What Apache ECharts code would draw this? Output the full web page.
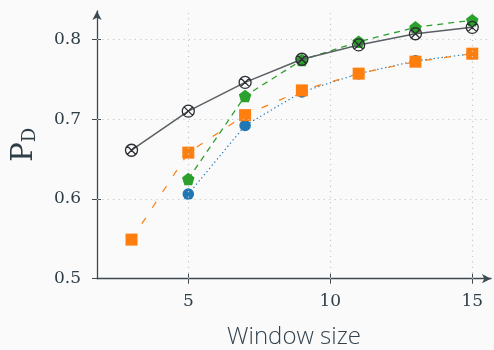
<!DOCTYPE html>
<html>
<head>
<meta charset="utf-8">
<script src="https://cdn.jsdelivr.net/npm/echarts@6/dist/echarts.min.js"></script>
<style>
  html, body { margin: 0; padding: 0; background: #fafafa; }
  #chart { width: 494px; height: 350px; }
</style>
</head>
<body>
<div id="chart"></div>
<script>
// Detection probability against window size for four detectors
const windowSizes = [3, 5, 7, 9, 11, 13, 15];
const windowSizesFrom5 = [5, 7, 9, 11, 13, 15];

const pdCross    = [0.661, 0.710, 0.746, 0.775, 0.793, 0.807, 0.815];
const pdPentagon = [0.625, 0.729, 0.774, 0.797, 0.815, 0.824];
const pdSquare   = [0.549, 0.658, 0.705, 0.736, 0.757, 0.772, 0.782];
const pdCircle   = [0.606, 0.692, 0.734, 0.757, 0.773, 0.782];

const xTicks = [5, 10, 15];
const yTicks = [0.5, 0.6, 0.7, 0.8];
const xGridLines = [5, 10, 15];
const yGridLines = [0.6, 0.7, 0.8];

const pairs = (xs, ys) => xs.map((x, i) => [x, ys[i]]);

const ink = '#2f3d47';
const axisInk = '#3e4a52';
const gridColor = '#c8c8c8';
const serif = 'DejaVu Serif';

const X_MIN = 1.785, X_MAX = 15.66;
const Y_MIN = 0.5, Y_MAX = 0.8355;
const gridRect = { left: 97, right: 3, top: 11, bottom: 71.3, containLabel: false, outerBoundsMode: 'none' };

const circledX = 'path://M0,10 A10,10 0 1,1 20,10 A10,10 0 1,1 0,10 Z M2.93,2.93 L17.07,17.07 M17.07,2.93 L2.93,17.07';
const pentagon = 'path://M0,-1 L0.951,-0.309 L0.588,0.809 L-0.588,0.809 L-0.951,-0.309 Z';

const chart = echarts.init(document.getElementById('chart'), null, { renderer: 'canvas' });

chart.setOption({
  backgroundColor: '#fafafa',
  animation: false,
  grid: [Object.assign({}, gridRect), Object.assign({}, gridRect)],
  xAxis: [
    {
      type: 'value', gridIndex: 0, min: X_MIN, max: X_MAX,
      name: 'Window size', nameLocation: 'middle', nameGap: 46,
      nameTextStyle: { fontFamily: 'Open Sans', fontWeight: 300, fontSize: 24, color: '#34424c' },
      axisLine: { show: true, symbol: ['none', 'arrow'], symbolSize: [7, 9],
                  lineStyle: { color: axisInk, width: 1.3 } },
      axisTick: { show: true, length: 5, customValues: xTicks,
                  lineStyle: { color: axisInk, width: 1 } },
      axisLabel: { customValues: xTicks, margin: 14, fontFamily: serif, fontSize: 17, color: ink },
      splitLine: { show: false }
    },
    {
      type: 'value', gridIndex: 1, min: X_MIN, max: X_MAX,
      axisLine: { show: false },
      axisTick: { show: true, inside: true, length: 5, customValues: xTicks,
                  lineStyle: { color: axisInk, width: 1 } },
      axisLabel: { show: false },
      splitLine: { show: false }
    }
  ],
  yAxis: [
    {
      type: 'value', gridIndex: 0, min: Y_MIN, max: Y_MAX,
      name: '{p|P}{d|D}', nameLocation: 'middle', nameGap: 58, nameRotate: 90,
      nameTextStyle: {
        color: ink,
        rich: {
          p: { fontFamily: serif, fontSize: 29, color: ink, lineHeight: 36, verticalAlign: 'bottom' },
          d: { fontFamily: serif, fontSize: 18, color: ink, lineHeight: 36, verticalAlign: 'bottom' }
        }
      },
      axisLine: { show: true, symbol: ['none', 'arrow'], symbolSize: [7, 9],
                  lineStyle: { color: axisInk, width: 1.3 } },
      axisTick: { show: true, length: 5, customValues: yTicks,
                  lineStyle: { color: axisInk, width: 1 } },
      axisLabel: { customValues: yTicks, margin: 16, fontFamily: serif, fontSize: 17, color: ink,
                   formatter: v => v.toFixed(1) },
      splitLine: { show: false }
    },
    {
      type: 'value', gridIndex: 1, min: Y_MIN, max: Y_MAX,
      axisLine: { show: false },
      axisTick: { show: true, inside: true, length: 4, customValues: yTicks,
                  lineStyle: { color: axisInk, width: 1 } },
      axisLabel: { show: false },
      splitLine: { show: false }
    }
  ],
  series: [
    {
      name: 'grid', type: 'line', xAxisIndex: 0, yAxisIndex: 0, data: [], z: 1, silent: true,
      markLine: {
        silent: true, symbol: ['none', 'none'], animation: false,
        label: { show: false },
        lineStyle: { color: gridColor, type: [1.2, 4.2], width: 1.2 },
        data: xGridLines.map(v => ({ xAxis: v })).concat(yGridLines.map(v => ({ yAxis: v })))
      }
    },
    {
      name: 'circle', type: 'line', data: pairs(windowSizesFrom5, pdCircle), z: 3,
      symbol: 'circle', symbolSize: 11.5,
      lineStyle: { color: '#1f77b4', width: 1.2, type: [1.3, 2.8] },
      itemStyle: { color: '#1f77b4' }
    },
    {
      name: 'square', type: 'line', data: pairs(windowSizes, pdSquare), z: 4,
      symbol: 'rect', symbolSize: 12,
      lineStyle: { color: '#ff7f0e', width: 1.2, type: [7, 12] },
      itemStyle: { color: '#ff7f0e' }
    },
    {
      name: 'pentagon', type: 'line', data: pairs(windowSizesFrom5, pdPentagon), z: 5,
      symbol: pentagon, symbolSize: 12.5,
      lineStyle: { color: '#2ca02c', width: 1.3, type: [6, 5] },
      itemStyle: { color: '#2ca02c' }
    },
    {
      name: 'cross', type: 'line', data: pairs(windowSizes, pdCross), z: 6,
      symbol: circledX, symbolSize: 12, symbolKeepAspect: true,
      lineStyle: { color: '#5a5f63', width: 1.5 },
      itemStyle: { color: 'rgba(0,0,0,0)', borderColor: '#2b2f33', borderWidth: 1.3 }
    }
  ]
});
</script>
</body>
</html>
